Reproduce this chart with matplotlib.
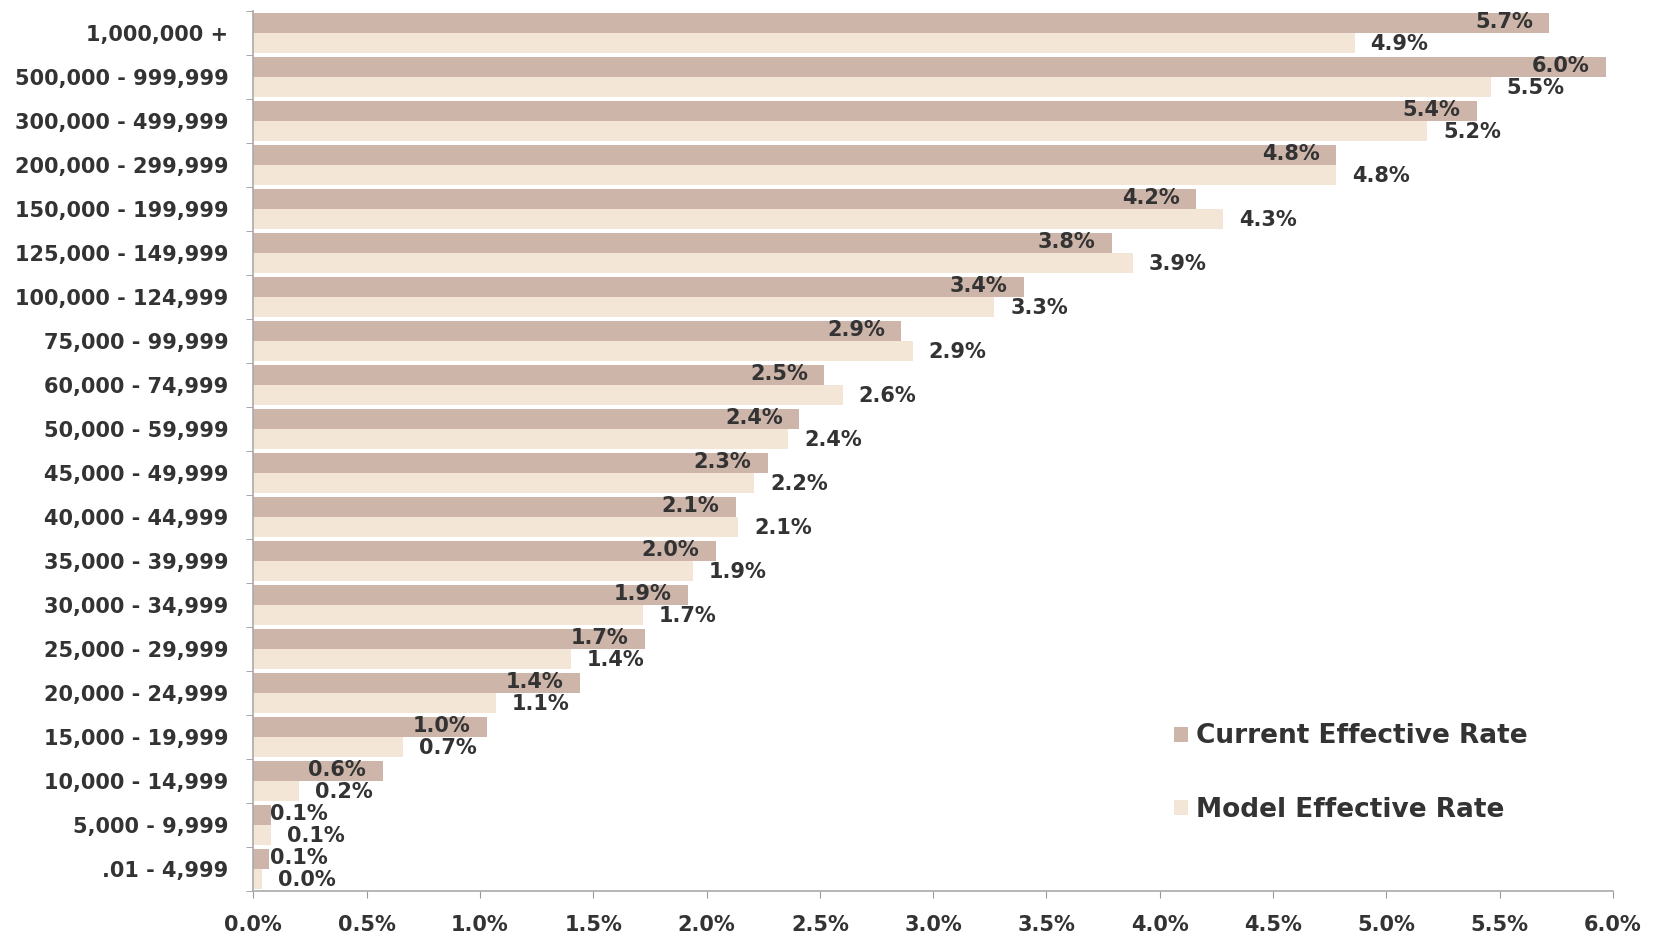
import matplotlib.pyplot as plt
import numpy as np

# income brackets, top to bottom
brackets = ['1,000,000 +', '500,000 - 999,999', '300,000 - 499,999', '200,000 - 299,999',
            '150,000 - 199,999', '125,000 - 149,999', '100,000 - 124,999', '75,000 - 99,999',
            '60,000 - 74,999', '50,000 - 59,999', '45,000 - 49,999', '40,000 - 44,999',
            '35,000 - 39,999', '30,000 - 34,999', '25,000 - 29,999', '20,000 - 24,999',
            '15,000 - 19,999', '10,000 - 14,999', '5,000 - 9,999', '.01 - 4,999']

current_rate = [5.72, 5.97, 5.40, 4.78, 4.16, 3.79, 3.40, 2.86, 2.52, 2.41,
                2.27, 2.13, 2.04, 1.92, 1.73, 1.44, 1.03, 0.57, 0.08, 0.07]
model_rate = [4.86, 5.46, 5.18, 4.78, 4.28, 3.88, 3.27, 2.91, 2.60, 2.36,
              2.21, 2.14, 1.94, 1.72, 1.40, 1.07, 0.66, 0.20, 0.08, 0.04]

x_ticks = [0.0, 0.5, 1.0, 1.5, 2.0, 2.5, 3.0, 3.5, 4.0, 4.5, 5.0, 5.5, 6.0]

cur_color = '#cdb5aa'
mod_color = '#f3e6d6'
txt_color = '#333333'

plt.rcParams['font.family'] = ['DejaVu Sans']
plt.rcParams['font.weight'] = 'bold'

fig = plt.figure(figsize=(16.56, 9.36), dpi=100)
ax = fig.add_axes([0.153, 0.048, 0.821, 0.940])

y = np.arange(len(brackets))
h = 0.46
ax.barh(y - h / 2, current_rate, height=h, color=cur_color, label='Current Effective Rate')
ax.barh(y + h / 2, model_rate, height=h, color=mod_color, label='Model Effective Rate')

# data labels
for i in range(len(brackets)):
    c = current_rate[i]
    ax.text(max(c - 0.2, 0.2), i - h / 2 - 0.02, '%.1f%%' % c, ha='center', va='center',
            fontsize=15, color=txt_color, fontweight='bold')
    m = model_rate[i]
    ax.text(m + 0.07, i + h / 2 + 0.02, '%.1f%%' % m, ha='left', va='center',
            fontsize=15, color=txt_color, fontweight='bold')

ax.set_ylim(len(brackets) - 0.5, -0.5)
ax.set_xlim(0, 6.0)
ax.set_yticks(y)
ax.set_yticklabels(brackets)
ax.set_yticks(np.arange(len(brackets) + 1) - 0.5, minor=True)
ax.tick_params(axis='y', which='major', length=0, pad=18, labelsize=15, labelcolor=txt_color)
ax.tick_params(axis='y', which='minor', length=5, color='#999999')
ax.set_xticks(x_ticks)
ax.set_xticklabels(['%.1f%%' % t for t in x_ticks])
ax.tick_params(axis='x', length=5, color='#999999', pad=12, labelsize=15, labelcolor=txt_color)

for s in ['top', 'right']:
    ax.spines[s].set_visible(False)
for s in ['left', 'bottom']:
    ax.spines[s].set_color('#aaaaaa')
    ax.spines[s].set_linewidth(1.2)

leg = ax.legend(loc='center left', bbox_to_anchor=(0.66, 0.134), frameon=False,
                fontsize=19, handlelength=0.5, handleheight=0.5, handletextpad=0.3,
                labelspacing=1.8)
for t in leg.get_texts():
    t.set_color(txt_color)

fig.savefig('out.png', dpi=100, facecolor='white')
